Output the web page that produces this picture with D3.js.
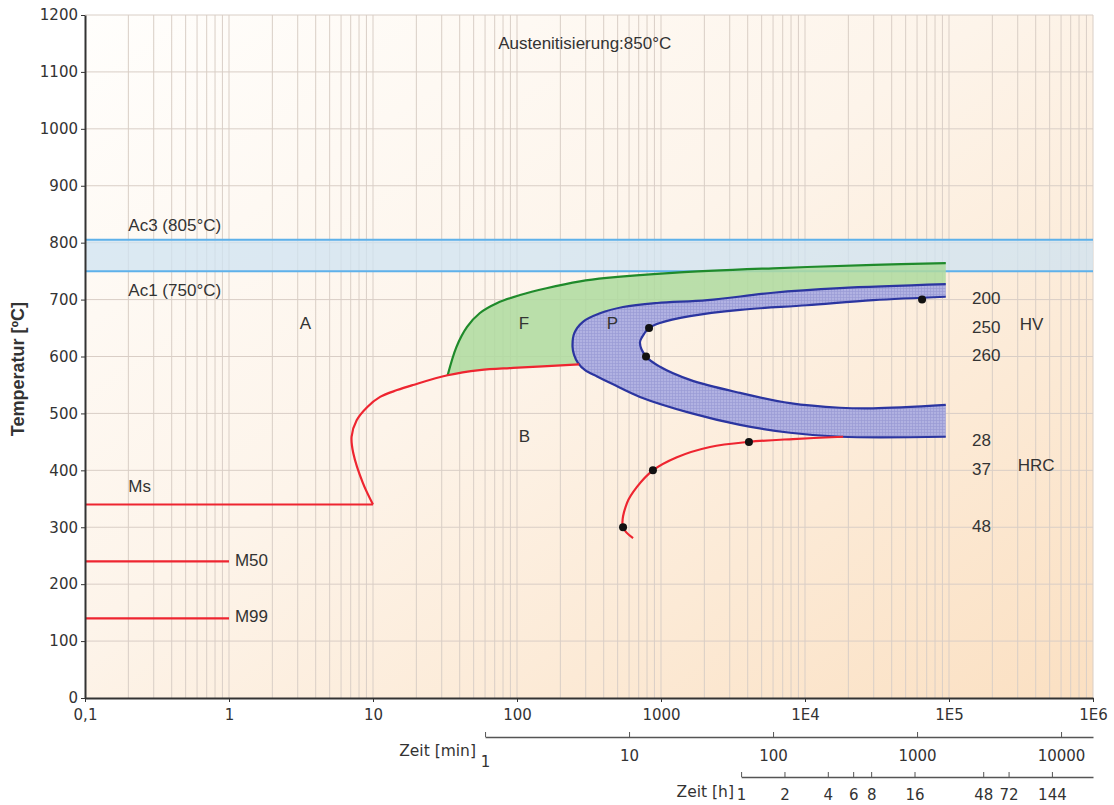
<!DOCTYPE html>
<html>
<head>
<meta charset="utf-8">
<script src="https://cdn.jsdelivr.net/npm/d3@7"></script>
<style>
body { margin:0; background:#fff; }
svg text { fill:#333; }
</style>
</head>
<body>
<script>
// time in seconds, temperature in degC
var timeTicks = [0.1, 1, 10, 100, 1000, 1e4, 1e5, 1e6];
var timeLabels = ['0,1', '1', '10', '100', '1000', '1E4', '1E5', '1E6'];
var tempTicks = [0, 100, 200, 300, 400, 500, 600, 700, 800, 900, 1000, 1100, 1200];
var minuteTicks = [1, 10, 100, 1000, 10000];
var hourTicks = [1, 2, 4, 6, 8, 16, 48, 72, 144];

var ac3 = 805, ac1 = 750;
var msLine = [[0.1, 340], [10, 340]];
var m50Line = [[0.1, 240], [1, 240]];
var m99Line = [[0.1, 140], [1, 140]];

var bainiteStart = [[10, 340], [8.5, 378], [7.3, 430], [7.1, 459], [7.7, 488], [9.1, 511], [11.2, 529],
  [14.7, 541], [19, 550], [33, 567], [55, 576], [94, 580], [270, 586]];
var ferriteStart = [[33, 567], [38, 617], [45, 652], [55, 676], [73, 694], [105, 708], [160, 720],
  [274, 732], [420, 738], [1200, 747], [6000, 755], [30000, 761], [95000, 764]];
var pearliteStart = [[95000, 727], [17500, 720], [6000, 712], [2100, 699], [940, 694], [545, 687],
  [377, 676], [287, 661], [250, 641], [243, 617], [249, 603], [265, 589], [297, 576], [360, 565],
  [457, 552], [714, 529], [1590, 501], [3540, 480], [7870, 466], [17500, 459], [95000, 459]];
var pearliteFinish = [[95000, 705], [29700, 699], [10300, 690], [3540, 682], [1590, 671], [984, 659],
  [826, 650], [738, 634], [714, 624], [787, 600], [984, 582], [1590, 559], [3540, 536], [7870, 518],
  [17500, 510], [29700, 509], [95000, 515]];
var bainiteFinish = [[18400, 459], [8260, 455], [4080, 450], [2190, 441], [1290, 423], [879, 400],
  [681, 371], [581, 343], [545, 300], [640, 281]];

var hardnessT = [700, 650, 600, 450, 400, 300];
var hardnessTime = [65000, 826, 787, 4080, 879, 545];
var hardnessLabels = ['200', '250', '260', '28', '37', '48'];

var W = 1114, H = 805;
var svg = d3.select('body').append('svg').attr('width', W).attr('height', H);

var x = d3.scaleLog().domain([0.1, 1e6]).range([85, 1093]);
var y = d3.scaleLinear().domain([0, 1200]).range([698, 15]);

var defs = svg.append('defs');
var grad = defs.append('linearGradient').attr('id', 'bg')
  .attr('x1', '0').attr('y1', '0').attr('x2', '1').attr('y2', '1');
grad.append('stop').attr('offset', '0').attr('stop-color', '#fffefc');
grad.append('stop').attr('offset', '0.45').attr('stop-color', '#fdf4ea');
grad.append('stop').attr('offset', '1').attr('stop-color', '#fbe0c2');

var pat = defs.append('pattern').attr('id', 'hatch').attr('patternUnits', 'userSpaceOnUse')
  .attr('width', 3).attr('height', 3);
pat.append('rect').attr('width', 3).attr('height', 3).attr('fill', '#abade2');
pat.append('path').attr('d', 'M0,0.5H3M0.5,0V3').attr('stroke', '#9194d4').attr('stroke-width', 0.7);

svg.append('rect').attr('x', x(0.1)).attr('y', y(1200))
  .attr('width', x(1e6) - x(0.1)).attr('height', y(0) - y(1200)).attr('fill', 'url(#bg)');

// grid
var minorVals = [];
[0.1, 1, 10, 100, 1000, 1e4, 1e5].forEach(function(d) {
  for (var k = 1; k < 10; k++) minorVals.push(d * k);
});
minorVals.push(1e6);
svg.append('g').selectAll('line').data(minorVals.filter(function(d){ return d > 0.1; }))
  .enter().append('line')
  .attr('x1', function(d){ return x(d); }).attr('x2', function(d){ return x(d); })
  .attr('y1', y(1200)).attr('y2', y(0))
  .attr('stroke', '#d9cec6').attr('stroke-width', 1);
svg.append('g').selectAll('line').data(tempTicks.filter(function(d){ return d > 0; }))
  .enter().append('line')
  .attr('x1', x(0.1)).attr('x2', x(1e6))
  .attr('y1', function(d){ return y(d); }).attr('y2', function(d){ return y(d); })
  .attr('stroke', '#d9cec6').attr('stroke-width', 1);

// Ac band
svg.append('rect').attr('x', x(0.1)).attr('y', y(ac3)).attr('width', x(1e6) - x(0.1))
  .attr('height', y(ac1) - y(ac3)).attr('fill', '#cfe3f1').attr('opacity', 0.75);
svg.selectAll('line.ac').data([ac3, ac1]).enter().append('line').attr('class', 'ac')
  .attr('x1', x(0.1)).attr('x2', x(1e6))
  .attr('y1', function(d){ return y(d); }).attr('y2', function(d){ return y(d); })
  .attr('stroke', '#5eb1ea').attr('stroke-width', 2);

var line = d3.line().x(function(d){ return x(d[0]); }).y(function(d){ return y(d[1]); })
  .curve(d3.curveCatmullRom.alpha(0.5));
var straight = d3.line().x(function(d){ return x(d[0]); }).y(function(d){ return y(d[1]); });
function joined(parts) {
  return parts.map(function(p, i){ var s = line(p); return i ? s.replace(/^M/, 'L') : s; }).join('') + 'Z';
}

// ferrite field
svg.append('path')
  .attr('d', joined([ferriteStart, pearliteStart.slice(0, 12), bainiteStart.slice(9).reverse()]))
  .attr('fill', '#aedb9f').attr('fill-opacity', 0.85).attr('stroke', 'none');
// pearlite field
svg.append('path')
  .attr('d', joined([pearliteStart, pearliteFinish.slice().reverse()]))
  .attr('fill', 'url(#hatch)').attr('fill-opacity', 0.92).attr('stroke', 'none');

svg.append('path').attr('d', line(ferriteStart)).attr('fill', 'none')
  .attr('stroke', '#1f8a2b').attr('stroke-width', 2.2);
svg.selectAll('path.blue').data([pearliteStart, pearliteFinish]).enter().append('path').attr('class', 'blue')
  .attr('d', line).attr('fill', 'none').attr('stroke', '#2b35a0').attr('stroke-width', 2.2);

svg.selectAll('path.red').data([msLine, m50Line, m99Line]).enter().append('path').attr('class', 'red')
  .attr('d', straight).attr('fill', 'none').attr('stroke', '#ee2530').attr('stroke-width', 2.2);
svg.selectAll('path.redc').data([bainiteStart, bainiteFinish]).enter().append('path').attr('class', 'redc')
  .attr('d', line).attr('fill', 'none').attr('stroke', '#ee2530').attr('stroke-width', 2.2);

svg.selectAll('circle.hp').data(hardnessT).enter().append('circle').attr('class', 'hp')
  .attr('cx', function(d, i){ return x(hardnessTime[i]); })
  .attr('cy', function(d){ return y(d); })
  .attr('r', 4).attr('fill', '#111');

var labelFont = 'Liberation Sans, Arial, sans-serif';
svg.selectAll('text.hl').data(hardnessT).enter().append('text').attr('class', 'hl')
  .attr('x', 972).attr('y', function(d){ return y(d); })
  .attr('dominant-baseline', 'middle').attr('font-family', labelFont)
  .attr('font-size', 17).text(function(d, i){ return hardnessLabels[i]; });

// text labels inside plot
var notes = [
  { t: 0.2, T: 828, s: 'Ac3 (805°C)' },
  { t: 0.2, T: 715, s: 'Ac1 (750°C)' },
  { t: 3.1, T: 656, s: 'A' },
  { t: 103, T: 656, s: 'F' },
  { t: 420, T: 656, s: 'P' },
  { t: 103, T: 457, s: 'B' },
  { t: 0.2, T: 370, s: 'Ms' },
  { t: 1.1, T: 239, s: 'M50' },
  { t: 1.1, T: 141, s: 'M99' },
  { t: 74, T: 1149, s: 'Austenitisierung:850°C' },
  { t: 3.1e5, T: 655, s: 'HV' },
  { t: 3.0e5, T: 406, s: 'HRC' }
];
svg.selectAll('text.note').data(notes).enter().append('text').attr('class', 'note')
  .attr('x', function(d){ return x(d.t); }).attr('y', function(d){ return y(d.T); })
  .attr('dominant-baseline', 'middle').attr('font-family', labelFont)
  .attr('font-size', 17)
  .text(function(d){ return d.s; });

// axes
var tickFont = 'DejaVu Sans, Verdana, sans-serif';
var yAxis = svg.append('g').attr('transform', 'translate(' + x(0.1) + ',0)')
  .call(d3.axisLeft(y).tickValues(tempTicks).tickSize(4).tickSizeOuter(0).tickFormat(d3.format('d')));
var xAxis = svg.append('g').attr('transform', 'translate(0,' + y(0) + ')')
  .call(d3.axisBottom(x).tickValues(timeTicks).tickSize(4).tickSizeOuter(0)
    .tickFormat(function(d, i){ return timeLabels[i]; }));
[yAxis, xAxis].forEach(function(g) {
  g.select('.domain').attr('stroke', '#333').attr('stroke-width', 2);
  g.selectAll('.tick line').attr('stroke', '#333');
  g.selectAll('text').attr('font-family', tickFont).attr('font-size', 15).attr('fill', '#333');
});
xAxis.selectAll('text').attr('dy', '1em');

var xMin = d3.scaleLog().domain([1, 1e6 / 60]).range([x(60), x(1e6)]);
var minAxis = svg.append('g').attr('transform', 'translate(0,737)')
  .call(d3.axisBottom(xMin).tickValues(minuteTicks).tickSize(-5).tickSizeOuter(0).tickPadding(13)
    .tickFormat(d3.format('d')));
var xHour = d3.scaleLog().domain([1, 1e6 / 3600]).range([x(3600), x(1e6)]);
var hourAxis = svg.append('g').attr('transform', 'translate(0,777)')
  .call(d3.axisBottom(xHour).tickValues(hourTicks).tickSize(-5).tickSizeOuter(0).tickPadding(12)
    .tickFormat(d3.format('d')));
[minAxis, hourAxis].forEach(function(g) {
  g.select('.domain').attr('stroke', '#555').attr('stroke-width', 1.5);
  g.selectAll('.tick line').attr('stroke', '#555');
  g.selectAll('text').attr('font-family', tickFont).attr('font-size', 15).attr('fill', '#333');
});
minAxis.selectAll('.tick text').filter(function(d){ return d === 1; }).attr('dy', '1.1em');

svg.append('text').attr('x', 476).attr('y', 751).attr('text-anchor', 'end')
  .attr('dominant-baseline', 'middle').attr('font-family', tickFont).attr('font-size', 15.5)
  .text('Zeit [min]');
svg.append('text').attr('x', 734).attr('y', 792).attr('text-anchor', 'end')
  .attr('dominant-baseline', 'middle').attr('font-family', tickFont).attr('font-size', 15.5)
  .text('Zeit [h]');

svg.append('text').attr('transform', 'translate(24,' + y(578) + ') rotate(-90)')
  .attr('text-anchor', 'middle').attr('font-family', labelFont)
  .attr('font-size', 18).attr('font-weight', 'bold').attr('fill', '#222')
  .text('Temperatur [ºC]');
</script>
</body>
</html>
